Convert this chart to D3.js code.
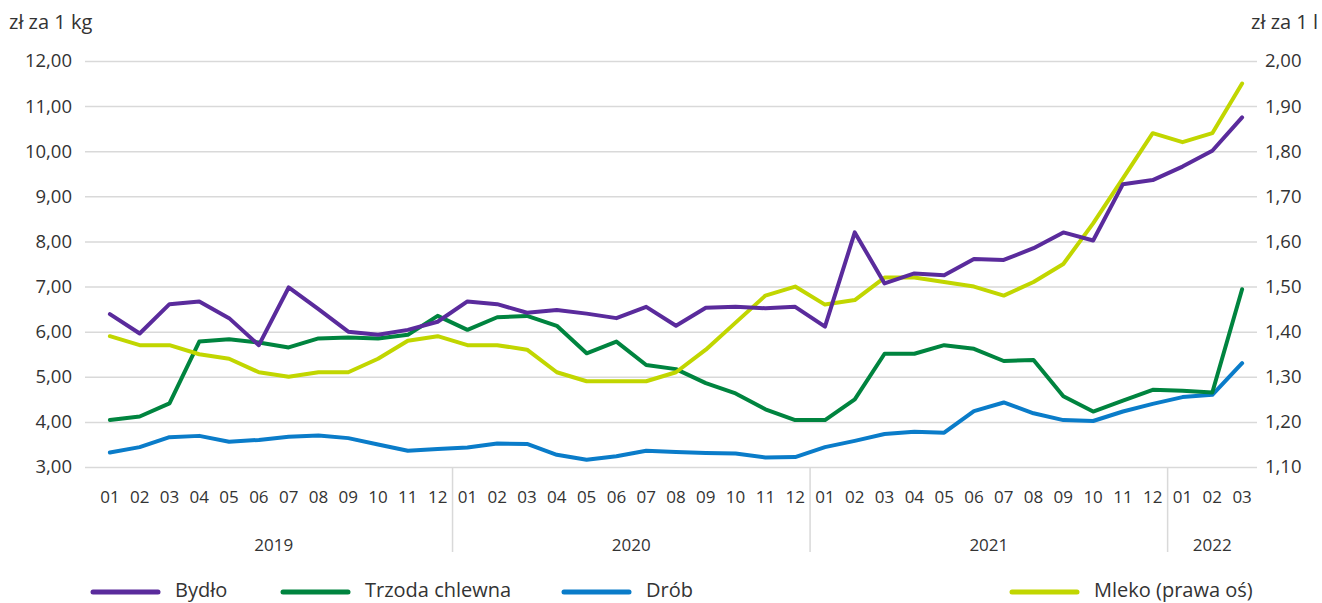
<!DOCTYPE html>
<html>
<head>
<meta charset="utf-8">
<script src="https://cdn.jsdelivr.net/npm/d3@7"></script>
<style>
  body { margin: 0; background: #fff; }
  text { font-family: "Open Sans", "Noto Sans", sans-serif; fill: #333; }
</style>
</head>
<body>
<div class="chart"></div>
<script>
const years = ['2019', '2020', '2021', '2022'];
const monthsPerYear = [12, 12, 12, 3];
const monthLabels = ['01', '02', '03', '04', '05', '06', '07', '08', '09', '10', '11', '12'];

const bydlo = [6.39, 5.96, 6.61, 6.67, 6.30, 5.70, 6.98, 6.50, 6.00, 5.93, 6.04, 6.22,
  6.67, 6.61, 6.42, 6.48, 6.40, 6.30, 6.55, 6.13, 6.53, 6.55, 6.52, 6.55,
  6.11, 8.20, 7.07, 7.29, 7.25, 7.61, 7.59, 7.85, 8.20, 8.02, 9.27, 9.36,
  9.66, 10.01, 10.75];
const trzoda = [4.04, 4.12, 4.41, 5.78, 5.83, 5.76, 5.65, 5.85, 5.87, 5.85, 5.93, 6.35,
  6.04, 6.32, 6.35, 6.13, 5.52, 5.78, 5.26, 5.17, 4.86, 4.63, 4.28, 4.04,
  4.04, 4.50, 5.51, 5.51, 5.70, 5.62, 5.35, 5.37, 4.57, 4.23, 4.47, 4.71,
  4.69, 4.65, 6.94];
const drob = [3.32, 3.44, 3.66, 3.69, 3.56, 3.60, 3.67, 3.70, 3.64, 3.50, 3.36, 3.40,
  3.43, 3.52, 3.51, 3.27, 3.16, 3.24, 3.36, 3.33, 3.31, 3.30, 3.21, 3.22,
  3.44, 3.58, 3.73, 3.78, 3.76, 4.24, 4.43, 4.19, 4.04, 4.02, 4.23, 4.40,
  4.55, 4.60, 5.30];
const mleko = [1.39, 1.37, 1.37, 1.35, 1.34, 1.31, 1.30, 1.31, 1.31, 1.34, 1.38, 1.39,
  1.37, 1.37, 1.36, 1.31, 1.29, 1.29, 1.29, 1.31, 1.36, 1.42, 1.48, 1.50,
  1.46, 1.47, 1.52, 1.52, 1.51, 1.50, 1.48, 1.51, 1.55, 1.64, 1.74, 1.84,
  1.82, 1.84, 1.95];

const leftTicks = [3, 4, 5, 6, 7, 8, 9, 10, 11, 12];
const rightTicks = [1.1, 1.2, 1.3, 1.4, 1.5, 1.6, 1.7, 1.8, 1.9, 2.0];

const createChart = () => {
  const width = 1322;
  const height = 603;
  const plot = { left: 85, right: 1257, top: 61, bottom: 467 };
  const locale = d3.formatLocale({ decimal: ',', thousands: ' ', grouping: [3], currency: ['', ' zł'] });
  const fmt = locale.format('.2f');

  // one entry per month
  const months = [];
  years.forEach((y, yi) => {
    for (let m = 0; m < monthsPerYear[yi]; m += 1) months.push({ year: y, label: monthLabels[m] });
  });
  const idx = months.map((d, i) => i);

  const svg = d3.select('.chart').append('svg')
    .attr('width', width)
    .attr('height', height)
    .style('background', '#fff');

  const x = d3.scaleBand().domain(idx).range([95, plot.right]);
  const cx = i => x(i) + x.bandwidth() / 2;
  const yLeft = d3.scaleLinear().domain([3, 12]).range([plot.bottom, plot.top]);
  const yRight = d3.scaleLinear().domain([1.1, 2.0]).range([plot.bottom, plot.top]);

  /* gridlines + left axis */
  const leftAxis = svg.append('g')
    .attr('transform', `translate(${plot.left},0)`)
    .call(d3.axisLeft(yLeft).tickValues(leftTicks).tickFormat(fmt)
      .tickSize(-(plot.right - plot.left)).tickPadding(13));
  leftAxis.select('.domain').remove();
  leftAxis.selectAll('line').attr('stroke', '#d9d9d9').attr('stroke-width', 1.5);
  leftAxis.selectAll('text').style('font-size', '18.5px').attr('fill', '#333');

  /* right axis */
  const rightAxis = svg.append('g')
    .attr('transform', `translate(${plot.right},0)`)
    .call(d3.axisRight(yRight).tickValues(rightTicks).tickFormat(fmt)
      .tickSize(0).tickPadding(8));
  rightAxis.select('.domain').remove();
  rightAxis.selectAll('text').style('font-size', '18.5px').attr('fill', '#333');

  svg.append('text').attr('x', 9).attr('y', 29)
    .style('font-size', '20px').text('zł za 1 kg');
  svg.append('text').attr('x', 1318).attr('y', 29).attr('text-anchor', 'end')
    .style('font-size', '20px').text('zł za 1 l');

  /* x axis: months */
  svg.append('g').selectAll('text')
    .data(months)
    .enter().append('text')
    .attr('x', (d, i) => cx(i))
    .attr('y', 503)
    .attr('text-anchor', 'middle')
    .style('font-size', '17px')
    .text(d => d.label);

  // year groups
  let start = 0;
  const groups = years.map((y, yi) => {
    const g = { year: y, first: start, last: start + monthsPerYear[yi] - 1 };
    start += monthsPerYear[yi];
    return g;
  });
  svg.append('g').selectAll('text')
    .data(groups)
    .enter().append('text')
    .attr('x', d => (cx(d.first) + cx(d.last)) / 2)
    .attr('y', 551)
    .attr('text-anchor', 'middle')
    .style('font-size', '17px')
    .text(d => d.year);

  svg.append('g').selectAll('line')
    .data(groups.slice(1))
    .enter().append('line')
    .attr('x1', d => x(d.first))
    .attr('x2', d => x(d.first))
    .attr('y1', plot.bottom)
    .attr('y2', 552)
    .attr('stroke', '#d9d9d9')
    .attr('stroke-width', 1.5);

  /* lines */
  const series = [
    { name: 'Bydło', values: bydlo, color: '#5a2b9c', scale: yLeft },
    { name: 'Trzoda chlewna', values: trzoda, color: '#00843f', scale: yLeft },
    { name: 'Drób', values: drob, color: '#0a7cc9', scale: yLeft },
    { name: 'Mleko (prawa oś)', values: mleko, color: '#c1d600', scale: yRight },
  ];
  const drawOrder = [series[2], series[1], series[3], series[0]];

  drawOrder.forEach((s) => {
    const line = d3.line()
      .x((d, i) => cx(i))
      .y(d => s.scale(d));
    svg.append('path')
      .datum(s.values)
      .attr('d', line)
      .attr('fill', 'none')
      .attr('stroke', s.color)
      .attr('stroke-width', 4)
      .attr('stroke-linejoin', 'round')
      .attr('stroke-linecap', 'round');
  });

  /* legend */
  const legendX = [93, 283, 564, 1012];
  const legend = svg.append('g').selectAll('g')
    .data(series)
    .enter().append('g')
    .attr('transform', (d, i) => `translate(${legendX[i]},592)`);
  legend.append('line')
    .attr('x1', 0).attr('x2', 65)
    .attr('stroke', d => d.color)
    .attr('stroke-width', 5)
    .attr('stroke-linecap', 'round');
  legend.append('text')
    .attr('x', 82)
    .attr('y', 5)
    .style('font-size', '20px')
    .text(d => d.name);
};

createChart();
</script>
</body>
</html>
